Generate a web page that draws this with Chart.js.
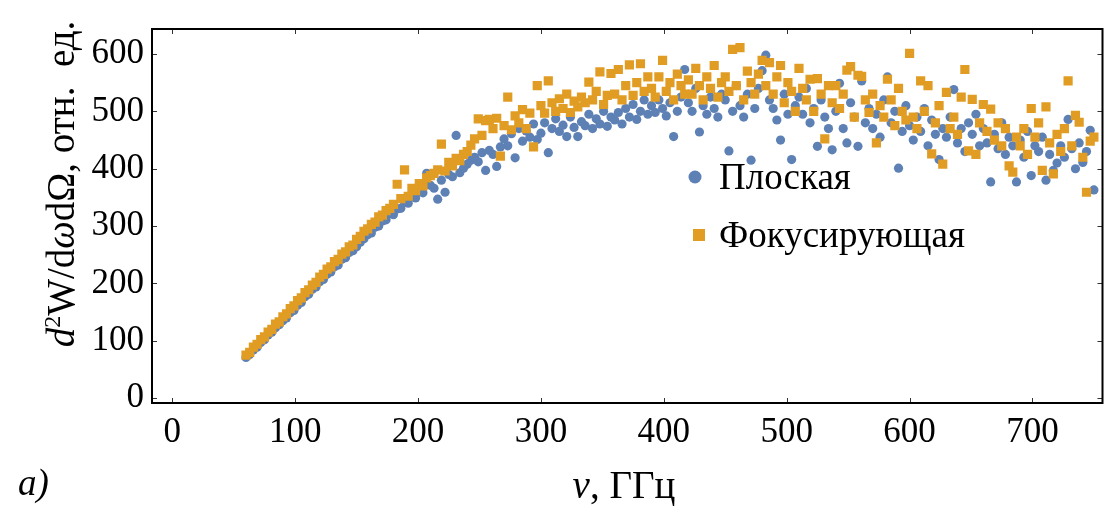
<!DOCTYPE html>
<html>
<head>
<meta charset="utf-8">
<script src="https://cdn.jsdelivr.net/npm/chart.js@4.4.0/dist/chart.umd.min.js"></script>
<style>
  html, body { margin: 0; padding: 0; background: #ffffff; }
  #wrap { width: 1109px; height: 506px; position: relative; }
</style>
</head>
<body>
<div id="wrap"><canvas id="chart"></canvas></div>
<script>
// Frequency, GHz
const freq = [
  60,63,66,69,72,75,78,81,84,87,
  90,93,96,99,102,105,108,111,114,117,
  120,123,126,129,132,135,138,141,144,147,
  150,153,156,159,162,165,168,171,174,177,
  180,183,186,189,192,195,198,201,204,207,
  210,213,216,219,222,225,228,231,234,237,
  240,243,246,249,252,255,258,261,264,267,
  270,273,276,279,282,285,288,291,294,297,
  300,303,306,309,312,315,318,321,324,327,
  330,333,336,339,342,345,348,351,354,357,
  360,363,366,369,372,375,378,381,384,387,
  390,393,396,399,402,405,408,411,414,417,
  420,423,426,429,432,435,438,441,444,447,
  450,453,456,459,462,465,468,471,474,477,
  480,483,486,489,492,495,498,501,504,507,
  510,513,516,519,522,525,528,531,534,537,
  540,543,546,549,552,555,558,561,564,567,
  570,573,576,579,582,585,588,591,594,597,
  600,603,606,609,612,615,618,621,624,627,
  630,633,636,639,642,645,648,651,654,657,
  660,663,666,669,672,675,678,681,684,687,
  690,693,696,699,702,705,708,711,714,717,
  720,723,726,729,732,735,738,741,744,747,
  750
];

// Spectral density, flat target (Плоская)
const flatValues = [
  71,76,84,89,97,102,110,115,123,128,
  135,140,149,153,162,167,177,181,190,194,
  203,207,216,220,229,232,242,245,254,257,
  264,272,278,285,288,298,300,309,311,322,
  320,330,331,341,340,351,349,360,358,392,
  371,366,347,380,359,390,386,458,393,401,
  408,415,420,412,428,397,432,425,404,438,
  452,440,461,419,470,448,466,455,478,451,
  462,480,428,470,487,465,476,456,490,472,
  456,482,475,495,470,487,478,500,474,490,
  485,498,478,505,490,512,486,500,520,495,
  510,498,520,505,492,515,456,500,525,573,
  515,500,540,464,510,495,525,505,490,530,
  520,431,500,545,510,490,530,415,505,540,
  571,598,520,505,485,450,530,495,416,510,
  525,495,540,480,505,439,520,490,470,433,
  500,549,470,445,515,490,439,553,480,505,
  470,495,455,520,560,480,500,401,465,510,
  475,450,490,465,505,440,485,460,416,470,
  455,490,538,445,470,430,480,460,495,440,
  470,445,377,460,435,480,425,455,440,377,
  450,420,465,388,440,430,455,380,425,397,
  410,440,420,486,435,400,445,411,430,467,
  363
];

// Spectral density, focusing target (Фокусирующая)
const focusValues = [
  75,80,89,94,102,107,115,120,129,133,
  142,147,156,161,170,175,184,189,197,202,
  211,216,225,229,238,242,251,255,264,267,
  277,282,291,295,303,307,316,319,327,331,
  338,373,348,398,352,366,362,374,370,384,
  388,392,398,443,396,411,405,418,414,425,
  430,441,452,487,458,484,486,470,488,422,
  475,525,468,492,480,503,470,497,438,545,
  510,497,553,515,500,522,505,530,498,518,
  508,525,515,551,520,535,569,512,528,566,
  530,573,520,545,581,528,550,583,535,560,
  540,525,560,589,535,550,520,565,545,530,
  555,530,575,545,520,560,540,580,525,550,
  560,535,608,545,611,520,570,550,530,565,
  589,545,585,530,560,580,515,550,535,500,
  575,540,520,556,500,557,530,452,545,515,
  545,505,530,572,578,490,563,561,520,498,
  530,445,510,490,556,520,475,540,500,485,
  601,490,470,553,500,545,426,480,510,408,
  533,470,490,460,525,573,431,521,425,480,
  512,465,504,450,480,440,470,405,394,455,
  440,470,425,505,455,480,397,508,445,391,
  460,430,470,553,440,493,481,420,359,448,
  455
];

const seriesNames = ['Плоская', 'Фокусирующая'];
const xTicks = [0, 100, 200, 300, 400, 500, 600, 700];
const yTicks = [0, 100, 200, 300, 400, 500, 600];

const BLUE = '#5e81b5';
const ORANGE = '#e19c24';
const SERIF = "'Liberation Serif', Tinos, 'Times New Roman', Times, serif";

function toPoints(xs, ys) {
  return xs.map((x, i) => ({ x: x, y: ys[i] }));
}

// Draws a run of text pieces with mixed styles, centred on (cx, y)
function drawRich(ctx, pieces, cx, y, size) {
  const fontOf = p => (p.italic ? 'italic ' : '') + Math.round(p.sup ? size * 0.62 : size) + 'px ' + SERIF;
  let total = 0;
  pieces.forEach(p => { ctx.font = fontOf(p); total += ctx.measureText(p.t).width; });
  let x = cx - total / 2;
  pieces.forEach(p => {
    ctx.font = fontOf(p);
    ctx.fillText(p.t, x, p.sup ? y - size * 0.36 : y);
    x += ctx.measureText(p.t).width;
  });
}

// Frame, inward ticks, axis titles, legend and panel letter
const framePlugin = {
  id: 'frameDecor',
  afterDraw(chart) {
    const ctx = chart.ctx;
    const a = chart.chartArea;
    const sx = chart.scales.x, sy = chart.scales.y;
    ctx.save();

    // inward tick marks on all four sides
    ctx.strokeStyle = '#333';
    ctx.lineWidth = 1;
    ctx.beginPath();
    xTicks.forEach(v => {
      const px = Math.round(sx.getPixelForValue(v)) + 0.5;
      ctx.moveTo(px, a.bottom); ctx.lineTo(px, a.bottom - 5);
      ctx.moveTo(px, a.top); ctx.lineTo(px, a.top + 5);
    });
    yTicks.forEach(v => {
      const py = Math.round(sy.getPixelForValue(v)) + 0.5;
      ctx.moveTo(a.left, py); ctx.lineTo(a.left + 5, py);
      ctx.moveTo(a.right, py); ctx.lineTo(a.right - 5, py);
    });
    ctx.stroke();

    // frame
    ctx.strokeStyle = '#000';
    ctx.lineWidth = 2;
    ctx.strokeRect(a.left, a.top, a.right - a.left, a.bottom - a.top);

    ctx.fillStyle = '#000';
    ctx.textBaseline = 'alphabetic';

    // x-axis title
    drawRich(ctx, [
      { t: 'ν', italic: true },
      { t: ', ГГц' }
    ], 624, 498, 39);

    // y-axis title (rotated)
    ctx.save();
    ctx.translate(74, 184);
    ctx.rotate(-Math.PI / 2);
    drawRich(ctx, [
      { t: 'd', italic: true },
      { t: '2', sup: true },
      { t: 'W/d' },
      { t: 'ω', italic: true },
      { t: 'dΩ, отн.  ед.' }
    ], 0, 0, 39);
    ctx.restore();

    // panel letter
    ctx.font = 'italic 37px ' + SERIF;
    ctx.textAlign = 'left';
    ctx.fillText('a)', 18, 495);

    // legend
    ctx.textBaseline = 'middle';
    ctx.font = '37px ' + SERIF;
    ctx.fillStyle = BLUE;
    ctx.beginPath();
    ctx.arc(695, 177, 6.5, 0, Math.PI * 2);
    ctx.fill();
    ctx.fillStyle = ORANGE;
    ctx.fillRect(693, 229, 12, 12);
    ctx.fillStyle = '#000';
    ctx.fillText(seriesNames[0], 719, 179);
    ctx.fillText(seriesNames[1], 719, 237);

    ctx.restore();
  }
};

new Chart(document.getElementById('chart'), {
  type: 'scatter',
  data: {
    datasets: [
      {
        label: seriesNames[0],
        data: toPoints(freq, flatValues),
        pointStyle: 'circle',
        pointRadius: 4.6,
        pointBackgroundColor: BLUE,
        pointBorderWidth: 0,
        order: 2
      },
      {
        label: seriesNames[1],
        data: toPoints(freq, focusValues),
        pointStyle: 'rect',
        pointRadius: 6.5,
        pointBackgroundColor: ORANGE,
        pointBorderWidth: 0,
        order: 1
      }
    ]
  },
  options: {
    responsive: true,
    maintainAspectRatio: false,
    animation: false,
    layout: { padding: { top: 17, right: 1, left: 0, bottom: 0 } },
    plugins: {
      legend: { display: false },
      tooltip: { enabled: false }
    },
    scales: {
      x: {
        type: 'linear',
        min: -16.5,
        max: 757,
        grid: { display: false, drawTicks: false },
        border: { display: false },
        afterFit: s => { s.height = 103; },
        afterBuildTicks: s => { s.ticks = xTicks.map(v => ({ value: v })); },
        ticks: {
          padding: 9,
          color: '#000',
          font: { family: SERIF, size: 35 },
          maxRotation: 0,
          autoSkip: false
        }
      },
      y: {
        type: 'linear',
        min: -8.4,
        max: 643.6,
        grid: { display: false, drawTicks: false },
        border: { display: false },
        afterFit: s => { s.width = 152; },
        afterBuildTicks: s => { s.ticks = yTicks.map(v => ({ value: v })); },
        ticks: {
          padding: 8,
          color: '#000',
          font: { family: SERIF, size: 35 },
          autoSkip: false
        }
      }
    }
  },
  plugins: [framePlugin]
});
</script>
</body>
</html>
